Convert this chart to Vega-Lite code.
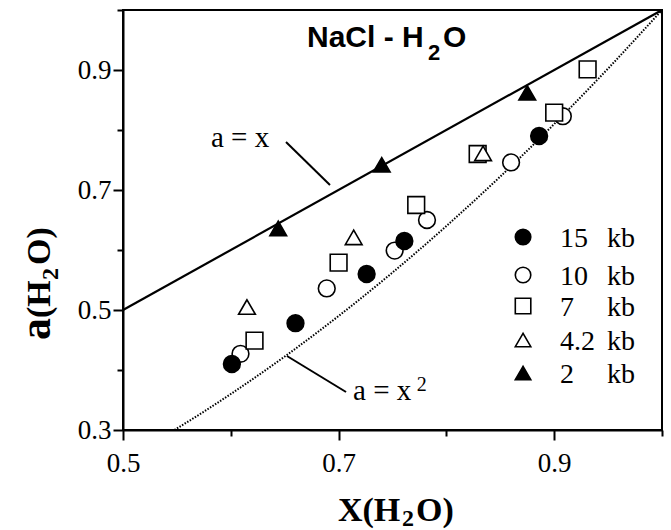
{
  "$schema": "https://vega.github.io/schema/vega-lite/v6.json",
  "width": 539,
  "height": 420,
  "autosize": {"type": "none"},
  "padding": {"left": 123, "top": 10, "right": 9, "bottom": 100},
  "background": "white",
  "config": {
    "view": {"stroke": "black", "strokeWidth": 2},
    "axis": {
      "grid": false,
      "title": null,
      "domainColor": "black",
      "domainWidth": 2,
      "tickColor": "black",
      "tickWidth": 2,
      "labelFont": "Liberation Serif",
      "labelFontSize": 27,
      "labelColor": "black",
      "labelFlush": false,
      "labelOverlap": false,
      "format": ".1f"
    }
  },
  "datasets": {
    "pts": [
      {"s": "10", "x": 0.609, "y": 0.427},
      {"s": "10", "x": 0.689, "y": 0.536},
      {"s": "10", "x": 0.752, "y": 0.599},
      {"s": "10", "x": 0.782, "y": 0.650},
      {"s": "10", "x": 0.860, "y": 0.746},
      {"s": "10", "x": 0.908, "y": 0.823},
      {"s": "7", "x": 0.622, "y": 0.449},
      {"s": "7", "x": 0.700, "y": 0.579},
      {"s": "7", "x": 0.772, "y": 0.675},
      {"s": "7", "x": 0.829, "y": 0.760},
      {"s": "7", "x": 0.900, "y": 0.829},
      {"s": "7", "x": 0.931, "y": 0.901},
      {"s": "4.2", "x": 0.615, "y": 0.505},
      {"s": "4.2", "x": 0.714, "y": 0.621},
      {"s": "4.2", "x": 0.834, "y": 0.761},
      {"s": "15", "x": 0.601, "y": 0.410},
      {"s": "15", "x": 0.660, "y": 0.478},
      {"s": "15", "x": 0.726, "y": 0.560},
      {"s": "15", "x": 0.761, "y": 0.615},
      {"s": "15", "x": 0.886, "y": 0.790},
      {"s": "2", "x": 0.644, "y": 0.636},
      {"s": "2", "x": 0.740, "y": 0.742},
      {"s": "2", "x": 0.875, "y": 0.862}
    ],
    "leg": [
      {"s": "15", "x": 0.8711, "y": 0.6217},
      {"s": "10", "x": 0.8711, "y": 0.5583},
      {"s": "7", "x": 0.8711, "y": 0.5067},
      {"s": "4.2", "x": 0.8711, "y": 0.45},
      {"s": "2", "x": 0.8711, "y": 0.395}
    ],
    "legtxt": [
      {"x": 0.9054, "y": 0.605, "t": "15"},
      {"x": 0.9054, "y": 0.5417, "t": "10"},
      {"x": 0.9054, "y": 0.49, "t": "7"},
      {"x": 0.9054, "y": 0.4333, "t": "4.2"},
      {"x": 0.9054, "y": 0.3783, "t": "2"},
      {"x": 0.9490, "y": 0.605, "t": "kb"},
      {"x": 0.9490, "y": 0.5417, "t": "kb"},
      {"x": 0.9490, "y": 0.49, "t": "kb"},
      {"x": 0.9490, "y": 0.4333, "t": "kb"},
      {"x": 0.9490, "y": 0.3783, "t": "kb"}
    ],
    "ideal": [
      {"x": 0.5, "y": 0.5},
      {"x": 1.0, "y": 1.0}
    ],
    "sq": [
      {"x": 0.5477, "y": 0.3},
      {"x": 0.575, "y": 0.3306},
      {"x": 0.6, "y": 0.36},
      {"x": 0.65, "y": 0.4225},
      {"x": 0.7, "y": 0.49},
      {"x": 0.75, "y": 0.5625},
      {"x": 0.8, "y": 0.64},
      {"x": 0.85, "y": 0.7225},
      {"x": 0.9, "y": 0.81},
      {"x": 0.95, "y": 0.9025},
      {"x": 1.0, "y": 1.0}
    ],
    "pointers": [
      {"x": 0.6512, "y": 0.78, "x2": 0.692, "y2": 0.7083},
      {"x": 0.6521, "y": 0.4233, "x2": 0.7069, "y2": 0.3633}
    ],
    "notes": [
      {"x": 0.5816, "y": 0.7717, "t": "a = x"},
      {"x": 0.7134, "y": 0.35, "t": "a = x"}
    ],
    "notesup": [
      {"x": 0.7725, "y": 0.365, "t": "2"}
    ],
    "ttl": [
      {"x": 0.6707, "y": 0.9383, "t": "NaCl - H"},
      {"x": 0.7968, "y": 0.9383, "t": "O"}
    ],
    "ttlsub": [
      {"x": 0.7829, "y": 0.9167, "t": "2"}
    ],
    "xt": [
      {"x": 0.6994, "y": 0.1483, "t": "X(H"},
      {"x": 0.7718, "y": 0.1483, "t": "O)"}
    ],
    "xtsub": [
      {"x": 0.7588, "y": 0.1400, "t": "2"}
    ],
    "yta": [
      {"x": 0.4323, "y": 0.45, "t": "a"}
    ],
    "yt": [
      {"x": 0.4323, "y": 0.4867, "t": "(H"},
      {"x": 0.4323, "y": 0.575, "t": "O)"}
    ],
    "ytsub": [
      {"x": 0.4397, "y": 0.55, "t": "2"}
    ]
  },
  "encoding": {
    "x": {
      "field": "x",
      "type": "quantitative",
      "scale": {"domain": [0.5, 1.0], "nice": false, "zero": false},
      "axis": {
        "values": [0.5, 0.6, 0.7, 0.8, 0.9, 1.0],
        "labelExpr": "round(datum.value*10)%2==1 ? datum.label : ''",
        "tickSize": {"condition": {"test": "round(datum.value*10)%2==1", "value": 10}, "value": 6},
        "labelPadding": 10
      }
    },
    "y": {
      "field": "y",
      "type": "quantitative",
      "scale": {"domain": [0.3, 1.0], "nice": false, "zero": false},
      "axis": {
        "values": [0.3, 0.4, 0.5, 0.6, 0.7, 0.8, 0.9, 1.0],
        "labelExpr": "round(datum.value*10)%2==1 ? datum.label : ''",
        "tickSize": {"condition": {"test": "round(datum.value*10)%2==1", "value": 10}, "value": 6},
        "labelPadding": 2
      }
    }
  },
  "layer": [
    {
      "data": {"name": "ideal"},
      "mark": {"type": "line", "color": "black", "strokeWidth": 2.2},
      "encoding": {}
    },
    {
      "data": {"name": "sq"},
      "mark": {"type": "line", "color": "black", "strokeWidth": 2, "strokeDash": [1.5, 1.5], "interpolate": "monotone"},
      "encoding": {}
    },
    {
      "data": {"name": "pointers"},
      "mark": {"type": "rule", "color": "black", "strokeWidth": 2},
      "encoding": {
        "x2": {"field": "x2"},
        "y2": {"field": "y2"}
      }
    },
    {
      "data": {"name": "pts"},
      "mark": {"type": "point", "filled": true, "size": 280, "opacity": 1, "stroke": "black", "strokeWidth": 1.6},
      "encoding": {
        "shape": {
          "field": "s",
          "type": "nominal",
          "scale": {"domain": ["15", "10", "7", "4.2", "2"], "range": ["circle", "circle", "square", "triangle-up", "triangle-up"]},
          "legend": null
        },
        "fill": {
          "field": "s",
          "type": "nominal",
          "scale": {"domain": ["15", "10", "7", "4.2", "2"], "range": ["black", "white", "white", "white", "black"]},
          "legend": null
        }
      }
    },
    {
      "data": {"name": "leg"},
      "mark": {"type": "point", "filled": true, "size": 240, "opacity": 1, "stroke": "black", "strokeWidth": 1.6},
      "encoding": {
        "shape": {"field": "s", "type": "nominal", "legend": null},
        "fill": {"field": "s", "type": "nominal", "legend": null}
      }
    },
    {
      "data": {"name": "legtxt"},
      "mark": {"type": "text", "align": "left", "baseline": "alphabetic", "font": "Liberation Serif", "fontSize": 28, "color": "black"},
      "encoding": {"text": {"field": "t"}}
    },
    {
      "data": {"name": "notes"},
      "mark": {"type": "text", "align": "left", "baseline": "alphabetic", "font": "Liberation Serif", "fontSize": 29, "color": "black"},
      "encoding": {"text": {"field": "t"}}
    },
    {
      "data": {"name": "notesup"},
      "mark": {"type": "text", "align": "left", "baseline": "alphabetic", "font": "Liberation Serif", "fontSize": 20, "color": "black"},
      "encoding": {"text": {"field": "t"}}
    },
    {
      "data": {"name": "ttl"},
      "mark": {"type": "text", "align": "left", "baseline": "alphabetic", "font": "Liberation Sans", "fontWeight": "bold", "fontSize": 30, "color": "black"},
      "encoding": {"text": {"field": "t"}}
    },
    {
      "data": {"name": "ttlsub"},
      "mark": {"type": "text", "align": "left", "baseline": "alphabetic", "font": "Liberation Sans", "fontWeight": "bold", "fontSize": 22, "color": "black"},
      "encoding": {"text": {"field": "t"}}
    },
    {
      "data": {"name": "xt"},
      "mark": {"type": "text", "align": "left", "baseline": "alphabetic", "font": "Liberation Serif", "fontWeight": "bold", "fontSize": 34, "color": "black"},
      "encoding": {"text": {"field": "t"}}
    },
    {
      "data": {"name": "xtsub"},
      "mark": {"type": "text", "align": "left", "baseline": "alphabetic", "font": "Liberation Serif", "fontWeight": "bold", "fontSize": 24, "color": "black"},
      "encoding": {"text": {"field": "t"}}
    },
    {
      "data": {"name": "yta"},
      "mark": {"type": "text", "align": "left", "baseline": "alphabetic", "angle": 270, "font": "Liberation Serif", "fontWeight": "bold", "fontSize": 44, "color": "black"},
      "encoding": {"text": {"field": "t"}}
    },
    {
      "data": {"name": "yt"},
      "mark": {"type": "text", "align": "left", "baseline": "alphabetic", "angle": 270, "font": "Liberation Serif", "fontWeight": "bold", "fontSize": 34, "color": "black"},
      "encoding": {"text": {"field": "t"}}
    },
    {
      "data": {"name": "ytsub"},
      "mark": {"type": "text", "align": "left", "baseline": "alphabetic", "angle": 270, "font": "Liberation Serif", "fontWeight": "bold", "fontSize": 24, "color": "black"},
      "encoding": {"text": {"field": "t"}}
    }
  ]
}
